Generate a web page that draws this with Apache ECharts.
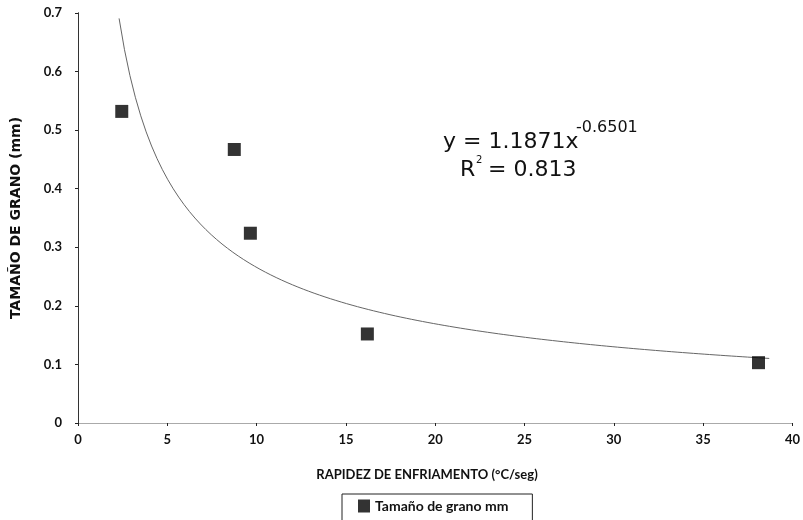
<!DOCTYPE html>
<html>
<head>
<meta charset="utf-8">
<script src="https://cdn.jsdelivr.net/npm/echarts@6/dist/echarts.min.js"></script>
<style>
  html, body { margin: 0; padding: 0; background: #fff; }
  #chart { width: 803px; height: 520px; }
</style>
</head>
<body>
<div id="chart"></div>
<script>
// Cooling rate (°C/seg) and measured grain size (mm)
const coolingRate = [2.45, 8.75, 9.65, 16.2, 38.1];
const grainSize = [0.532, 0.467, 0.324, 0.152, 0.103];

// Power-law fit shown on the chart: y = A * x^B
const trendA = 1.1871;
const trendB = -0.6501;
const trendR2 = 0.813;

const xTicks = [0, 5, 10, 15, 20, 25, 30, 35, 40];
const yTicks = [0, 0.1, 0.2, 0.3, 0.4, 0.5, 0.6, 0.7];

const seriesName = 'Tamaño de grano mm';

// Sample the fitted curve between the smallest and largest cooling rate
const xMin = 2.3;
const xMax = 38.7;
const trendPoints = [];
for (let i = 0; i <= 120; i++) {
  const x = xMin + (xMax - xMin) * i / 120;
  trendPoints.push([x, trendA * Math.pow(x, trendB)]);
}

const font = 'Lato, "DejaVu Sans", sans-serif';
const eqFont = '"DejaVu Sans", sans-serif';
const chart = echarts.init(document.getElementById('chart'));

chart.setOption({
  backgroundColor: '#ffffff',
  animation: false,
  grid: { left: 78, right: 9, top: 13, bottom: 97, containLabel: false },
  xAxis: [{
    type: 'value', min: 0, max: 40, interval: 5,
    axisLine: { show: true, onZero: false, lineStyle: { color: '#666', width: 1 } },
    axisTick: { show: true, length: 3, inside: false, lineStyle: { color: '#222' } },
    splitLine: { show: false },
    axisLabel: {
      margin: 10, color: '#111', fontFamily: font, fontWeight: 'bold', fontSize: 13,
      formatter: v => (xTicks.indexOf(v) >= 0 ? String(v) : '')
    }
  }, {
    type: 'value', position: 'top', min: 0, max: 40,
    axisLine: { show: true, lineStyle: { color: '#aaa', width: 1 } },
    axisTick: { show: false }, axisLabel: { show: false }, splitLine: { show: false }
  }],
  yAxis: [{
    type: 'value', min: 0, max: 0.7, interval: 0.1,
    axisLine: { show: true, onZero: false, lineStyle: { color: '#222', width: 1 } },
    axisTick: { show: true, length: 3, lineStyle: { color: '#222' } },
    splitLine: { show: false },
    axisLabel: {
      margin: 16, color: '#111', fontFamily: font, fontWeight: 'bold', fontSize: 13,
      formatter: v => {
        const t = yTicks.find(k => Math.abs(k - v) < 1e-9);
        return t === undefined ? '' : (t === 0 ? '0' : t.toFixed(1));
      }
    }
  }, {
    type: 'value', position: 'right', min: 0, max: 0.7,
    axisLine: { show: true, lineStyle: { color: '#333', width: 1 } },
    axisTick: { show: false }, axisLabel: { show: false }, splitLine: { show: false }
  }],
  legend: {
    data: [{ name: seriesName, icon: 'rect' }],
    left: 342, top: 494,
    orient: 'horizontal',
    itemWidth: 12, itemHeight: 13, itemGap: 8,
    padding: [5, 24, 8, 16],
    borderColor: '#222', borderWidth: 1,
    textStyle: { fontFamily: font, fontWeight: 'bold', fontSize: 14, color: '#111' }
  },
  series: [{
    name: seriesName,
    type: 'scatter',
    data: coolingRate.map((x, i) => [x, grainSize[i]]),
    symbol: 'rect', symbolSize: 13,
    itemStyle: { color: '#000' },
    z: 3
  }, {
    name: 'Potencial',
    type: 'line',
    data: trendPoints,
    showSymbol: false, smooth: false,
    lineStyle: { color: '#666', width: 1 },
    z: 2
  }],
  graphic: [{
    type: 'text', x: 443, y: 142,
    style: {
      text: 'y = ' + trendA.toFixed(4) + 'x',
      fontFamily: eqFont, fontSize: 22, fill: '#111',
      textAlign: 'left', textVerticalAlign: 'middle'
    }
  }, {
    type: 'text', x: 576, y: 128,
    style: {
      text: trendB.toFixed(4),
      fontFamily: eqFont, fontSize: 16, fill: '#111',
      textAlign: 'left', textVerticalAlign: 'middle'
    }
  }, {
    type: 'text', x: 460, y: 170,
    style: {
      text: 'R',
      fontFamily: eqFont, fontSize: 22, fill: '#111',
      textAlign: 'left', textVerticalAlign: 'middle'
    }
  }, {
    type: 'text', x: 476, y: 160,
    style: {
      text: '2',
      fontFamily: eqFont, fontSize: 10, fill: '#111',
      textAlign: 'left', textVerticalAlign: 'middle'
    }
  }, {
    type: 'text', x: 488, y: 170,
    style: {
      text: '= ' + trendR2.toFixed(3),
      fontFamily: eqFont, fontSize: 22, fill: '#111',
      textAlign: 'left', textVerticalAlign: 'middle'
    }
  }, {
    type: 'text', x: 16, y: 218, rotation: Math.PI / 2,
    style: {
      text: 'TAMAÑO DE GRANO (mm)',
      fontFamily: eqFont, fontWeight: 'bold', fontSize: 14, fill: '#111',
      textAlign: 'center', textVerticalAlign: 'middle'
    }
  }, {
    type: 'text', x: 427, y: 475,
    style: {
      text: 'RAPIDEZ DE ENFRIAMENTO (°C/seg)',
      fontFamily: font, fontWeight: 'bold', fontSize: 13, fill: '#111',
      textAlign: 'center', textVerticalAlign: 'middle'
    }
  }]
});
</script>
</body>
</html>
